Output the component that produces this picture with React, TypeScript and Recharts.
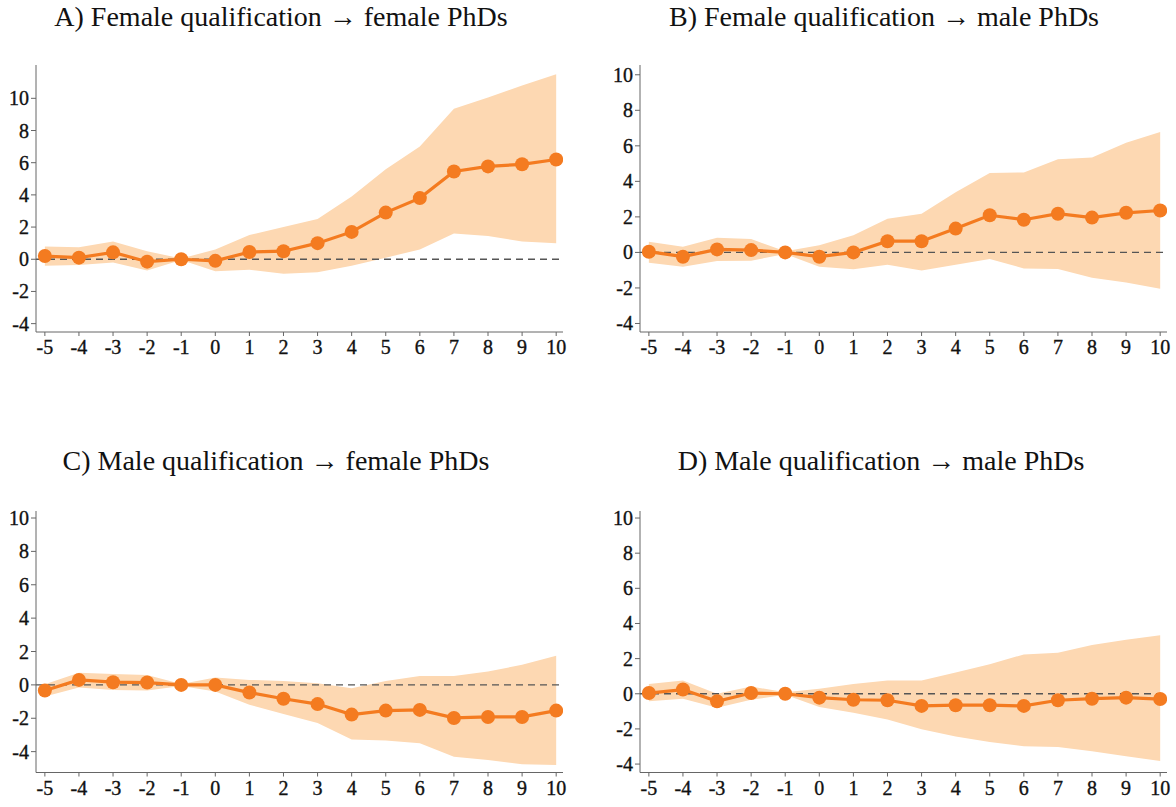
import React from 'react';
import { ComposedChart, Area, Line, XAxis, YAxis, ReferenceLine } from 'recharts';

const years = [-5, -4, -3, -2, -1, 0, 1, 2, 3, 4, 5, 6, 7, 8, 9, 10];
const yTicks = [-4, -2, 0, 2, 4, 6, 8, 10];

// A) Female qualification -> female PhDs
const coefA = [0.2, 0.1, 0.43, -0.15, 0, -0.1, 0.45, 0.5, 1.0, 1.7, 2.9, 3.8, 5.45, 5.77, 5.9, 6.2];
const loA = [-0.4, -0.35, -0.2, -0.7, -0.05, -0.75, -0.65, -0.9, -0.8, -0.4, 0.1, 0.6, 1.6, 1.45, 1.1, 1.0];
const hiA = [0.8, 0.75, 1.1, 0.5, 0.05, 0.6, 1.5, 2.0, 2.5, 3.9, 5.6, 7.0, 9.35, 10.05, 10.8, 11.5];

// B) Female qualification -> male PhDs
const coefB = [0.04, -0.24, 0.17, 0.13, 0, -0.24, 0, 0.63, 0.63, 1.34, 2.09, 1.84, 2.18, 1.96, 2.23, 2.36];
const loB = [-0.58, -0.8, -0.48, -0.47, -0.09, -0.8, -0.95, -0.7, -1.02, -0.7, -0.37, -0.9, -0.93, -1.42, -1.7, -2.05];
const hiB = [0.6, 0.32, 0.82, 0.75, 0.07, 0.4, 0.97, 1.9, 2.18, 3.39, 4.47, 4.5, 5.25, 5.34, 6.18, 6.78];

// C) Male qualification -> female PhDs
const coefC = [-0.34, 0.3, 0.16, 0.14, 0, 0, -0.46, -0.83, -1.15, -1.78, -1.54, -1.5, -1.98, -1.92, -1.92, -1.54];
const loC = [-0.7, -0.16, -0.3, -0.34, -0.06, -0.4, -1.19, -1.75, -2.28, -3.27, -3.33, -3.5, -4.3, -4.5, -4.75, -4.8];
const hiC = [0.04, 0.73, 0.65, 0.6, 0.06, 0.45, 0.3, 0.24, 0.1, -0.2, 0.24, 0.53, 0.53, 0.8, 1.2, 1.75];

// D) Male qualification -> male PhDs
const coefD = [0.04, 0.24, -0.43, 0.04, 0, -0.22, -0.34, -0.37, -0.69, -0.65, -0.65, -0.69, -0.37, -0.28, -0.22, -0.3];
const loD = [-0.43, -0.28, -0.79, -0.34, -0.06, -0.75, -1.08, -1.46, -2.02, -2.43, -2.75, -2.99, -3.03, -3.27, -3.55, -3.83];
const hiD = [0.56, 0.75, 0, 0.41, 0.09, 0.28, 0.56, 0.75, 0.75, 1.21, 1.68, 2.24, 2.34, 2.77, 3.08, 3.33];

const titles = [
  'A) Female qualification \u2192 female PhDs',
  'B) Female qualification \u2192 male PhDs',
  'C) Male qualification \u2192 female PhDs',
  'D) Male qualification \u2192 male PhDs',
];

const build = (coef: number[], lo: number[], hi: number[]) =>
  years.map((x, i) => ({ x, coef: coef[i], ci: [lo[i], hi[i]] }));

const LINE = '#f47b20';
const FILL = '#fdd8b2';
const AXIS = '#666666';
const FONT = '"Liberation Serif", "Times New Roman", serif';

type PanelProps = {
  title: string;
  data: { x: number; coef: number; ci: number[] }[];
  yDomain: [number, number];
  left: number;
  top: number;
  plotTop: number;
  plotBottom: number;
  plotLeft: number;
  plotRight: number;
  titleCenter: number;
  titleY: number;
};

const W = 585;
const H = 390;

const XTick = (props: any) => {
  const { x, y, payload } = props;
  return (
    <text
      x={x}
      y={y}
      dy={14}
      textAnchor="middle"
      fontFamily={FONT}
      fontSize={20}
      fill="#111"
      stroke="#111"
      strokeWidth={0.35}
      style={{ fontFamily: FONT }}
    >
      {payload.value}
    </text>
  );
};

const YTick = (props: any) => {
  const { x, y, payload } = props;
  return (
    <text
      x={x}
      y={y}
      dy={7}
      textAnchor="end"
      fontFamily={FONT}
      fontSize={20}
      fill="#111"
      stroke="#111"
      strokeWidth={0.35}
      style={{ fontFamily: FONT }}
    >
      {payload.value}
    </text>
  );
};

function Panel(p: PanelProps) {
  const xAxisH = 40;
  const yAxisW = p.plotLeft;
  return (
    <div style={{ position: 'absolute', left: p.left, top: p.top, width: W, height: H }}>
      <div
        style={{
          position: 'absolute',
          left: p.titleCenter - 300,
          width: 600,
          top: p.titleY,
          textAlign: 'center',
          fontFamily: FONT,
          fontSize: 28,
          color: '#111',
          whiteSpace: 'nowrap',
          lineHeight: '32px',
        }}
      >
        {p.title}
      </div>
      <ComposedChart
        width={W}
        height={H}
        data={p.data}
        style={{ fontFamily: FONT }}
        margin={{ top: p.plotTop, right: W - p.plotRight, bottom: H - p.plotBottom - xAxisH, left: 0 }}
      >
        <XAxis
          dataKey="x"
          type="number"
          domain={[-5.26, 10.2]}
          ticks={years}
          allowDataOverflow
          height={xAxisH}
          tickSize={4}
          tickMargin={4}
          stroke={AXIS}
          tickLine={{ stroke: AXIS }}
          tick={XTick}
          interval={0}
        />
        <YAxis
          type="number"
          domain={p.yDomain}
          ticks={yTicks}
          allowDataOverflow
          width={yAxisW}
          tickSize={5}
          tickMargin={2}
          stroke={AXIS}
          tickLine={{ stroke: AXIS }}
          tick={YTick}
          interval={0}
        />
        <Area
          dataKey="ci"
          type="linear"
          stroke="none"
          fill={FILL}
          fillOpacity={1}
          isAnimationActive={false}
          activeDot={false}
        />
        <ReferenceLine y={0} stroke="#555" strokeDasharray="7 5" strokeWidth={1.3} />
        <Line
          dataKey="coef"
          type="linear"
          stroke={LINE}
          strokeWidth={3.2}
          dot={{ r: 7, fill: LINE, stroke: LINE, strokeWidth: 0 }}
          activeDot={false}
          isAnimationActive={false}
        />
      </ComposedChart>
    </div>
  );
}

export default function App() {
  return (
    <div style={{ position: 'absolute', left: 0, top: 0, width: 1176, height: 807, background: '#fff', overflow: 'hidden' }}>
      <Panel
        title={titles[0]}
        data={build(coefA, loA, hiA)}
        yDomain={[-4.52, 12.07]}
        left={0}
        top={0}
        plotTop={65}
        plotBottom={332}
        plotLeft={36}
        plotRight={563}
        titleCenter={281}
        titleY={1}
      />
      <Panel
        title={titles[1]}
        data={build(coefB, loB, hiB)}
        yDomain={[-4.48, 10.55]}
        left={590}
        top={0}
        plotTop={65}
        plotBottom={332}
        plotLeft={50}
        plotRight={577}
        titleCenter={294}
        titleY={1}
      />
      <Panel
        title={titles[2]}
        data={build(coefC, loC, hiC)}
        yDomain={[-5.25, 10.42]}
        left={0}
        top={440}
        plotTop={71}
        plotBottom={332.5}
        plotLeft={36}
        plotRight={563}
        titleCenter={276}
        titleY={5}
      />
      <Panel
        title={titles[3]}
        data={build(coefD, loD, hiD)}
        yDomain={[-4.48, 10.4]}
        left={590}
        top={440}
        plotTop={71}
        plotBottom={332.5}
        plotLeft={50}
        plotRight={577}
        titleCenter={291}
        titleY={5}
      />
    </div>
  );
}
